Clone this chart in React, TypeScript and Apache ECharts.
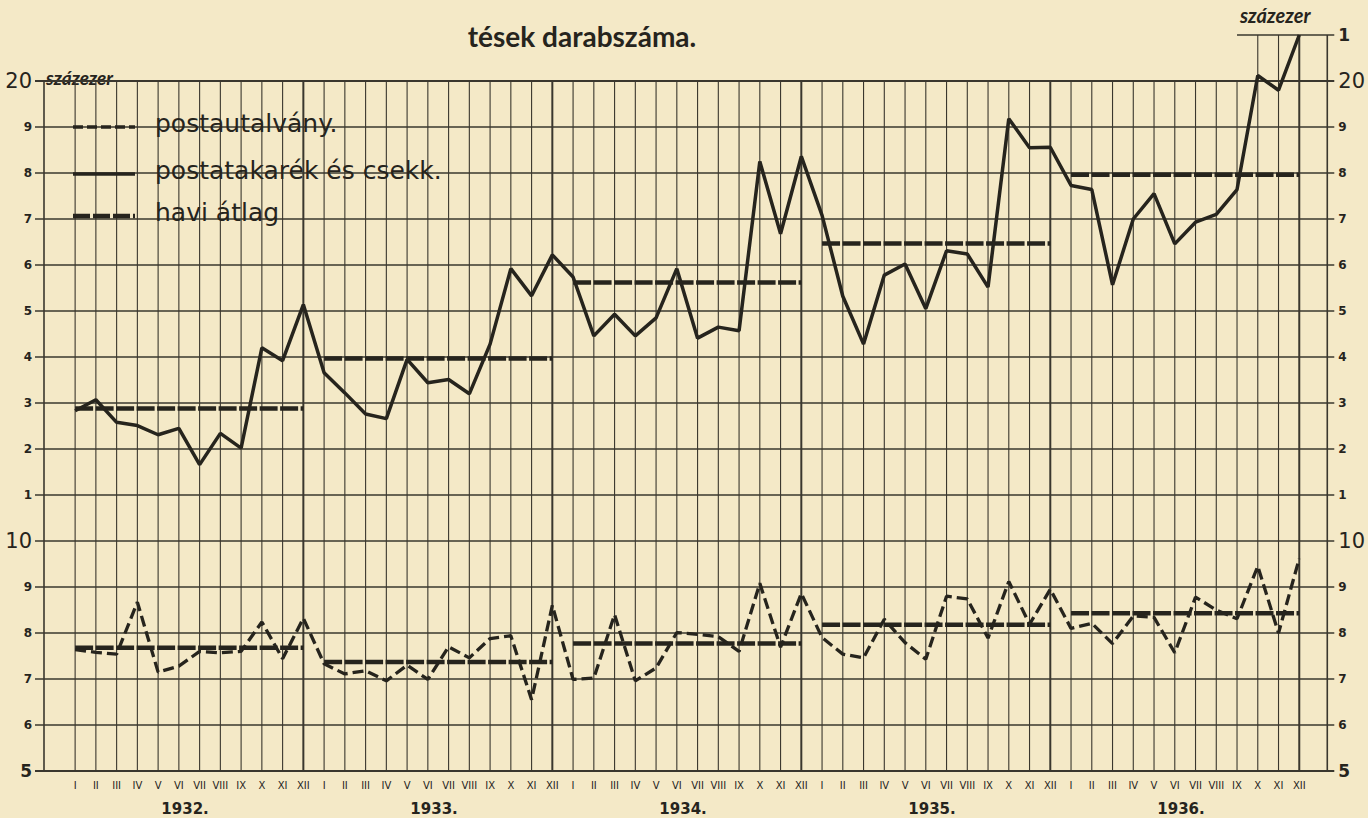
import React, { useEffect, useRef } from 'react';
import * as echarts from 'echarts';

const monthLabels = ['I', 'II', 'III', 'IV', 'V', 'VI', 'VII', 'VIII', 'IX', 'X', 'XI', 'XII'];
const yearLabels = ['1932.', '1933.', '1934.', '1935.', '1936.'];

// postatakarék és csekk (százezer)
const takarek1932 = [12.83, 13.07, 12.58, 12.51, 12.31, 12.45, 11.66, 12.34, 12.02, 14.2, 13.92, 15.14];
const takarek1933 = [13.66, 13.22, 12.76, 12.66, 13.95, 13.44, 13.51, 13.2, 14.28, 15.92, 15.33, 16.22];
const takarek1934 = [15.74, 14.46, 14.93, 14.46, 14.85, 15.92, 14.41, 14.65, 14.57, 18.25, 16.68, 18.36];
const takarek1935 = [17.08, 15.32, 14.28, 15.78, 16.02, 15.05, 16.31, 16.24, 15.52, 19.18, 18.55, 18.56];
const takarek1936 = [17.73, 17.64, 15.57, 17.0, 17.55, 16.46, 16.93, 17.1, 17.64, 20.12, 19.8, 21.0];
const takarekAvg = [12.88, 13.97, 15.62, 16.47, 17.96];

// postautalvány (százezer)
const utalvany1932 = [7.64, 7.58, 7.54, 8.67, 7.15, 7.28, 7.6, 7.57, 7.6, 8.24, 7.44, 8.32];
const utalvany1933 = [7.33, 7.11, 7.18, 6.96, 7.3, 6.99, 7.7, 7.46, 7.88, 7.94, 6.55, 8.6];
const utalvany1934 = [6.99, 7.02, 8.4, 6.96, 7.24, 8.01, 7.97, 7.92, 7.6, 9.08, 7.69, 8.86];
const utalvany1935 = [7.9, 7.54, 7.46, 8.3, 7.79, 7.43, 8.8, 8.74, 7.89, 9.12, 8.19, 8.95];
const utalvany1936 = [8.1, 8.21, 7.77, 8.37, 8.34, 7.57, 8.78, 8.5, 8.31, 9.45, 8.0, 9.62];
const utalvanyAvg = [7.68, 7.37, 7.77, 8.18, 8.43];

const yTickValues = [5, 6, 7, 8, 9, 10, 11, 12, 13, 14, 15, 16, 17, 18, 19, 20, 21];

const INK = '#26241d';
const GRID_INK = '#3a372e';
const PAPER = '#f4e9c7';
const X_MIN = -1.5;
const X_MAX = 60.35;

const takarekYears = [takarek1932, takarek1933, takarek1934, takarek1935, takarek1936];
const utalvanyYears = [utalvany1932, utalvany1933, utalvany1934, utalvany1935, utalvany1936];

function flatten(years: number[][]) {
  const out: number[][] = [];
  years.forEach((arr, y) => arr.forEach((v, m) => out.push([y * 12 + m, v])));
  return out;
}

function leftLabel(v: number) {
  if (v === 21) return '';
  if (v === 20 || v === 10) return '{big|' + v + '}';
  if (v === 5) return '{mid|5}';
  return '{small|' + (v > 10 ? v - 10 : v) + '}';
}
function rightLabel(v: number) {
  if (v === 20 || v === 10) return '{big|' + v + '}';
  if (v === 5) return '{mid|5}';
  if (v === 21) return '{mid|1}';
  return '{small|' + (v > 10 ? v - 10 : v) + '}';
}

const labelRich = {
  big: { fontSize: 21, fontFamily: 'DejaVu Sans', color: INK },
  mid: { fontSize: 17, fontFamily: 'DejaVu Sans', fontWeight: 'bold', color: INK },
  small: { fontSize: 12, fontFamily: 'DejaVu Sans', fontWeight: 'bold', color: INK },
};

export default function App() {
  const ref = useRef<HTMLDivElement>(null);
  useEffect(() => {
    document.body.style.margin = '0';
    document.body.style.background = PAPER;
    const chart = echarts.init(ref.current!, null, { renderer: 'svg' });

    const monthIdx: number[] = [];
    for (let i = 0; i < 60; i++) monthIdx.push(i);
    const yearCenters = yearLabels.map((_, y) => y * 12 + 5.3);

    const avgSeries: any[] = [];
    [takarekAvg, utalvanyAvg].forEach((avgs) => {
      avgs.forEach((a, y) => {
        avgSeries.push({
          type: 'line',
          name: 'havi átlag',
          xAxisIndex: 0,
          yAxisIndex: 0,
          data: [[y * 12, a], [y * 12 + 11, a]],
          symbol: 'none',
          lineStyle: { color: INK, width: 4.5, type: [18, 2.5], cap: 'butt' },
          z: 3,
        });
      });
    });

    const gridSeries = {
      type: 'custom',
      silent: true,
      xAxisIndex: 0,
      yAxisIndex: 0,
      data: [[0, 5]],
      z: 1,
      renderItem: (params: any, api: any) => {
        const children: any[] = [];
        const L = api.coord([X_MIN, 5])[0];
        const R = api.coord([X_MAX, 5])[0];
        const stroke = GRID_INK;
        yTickValues.forEach((v) => {
          const y = api.coord([0, v])[1];
          if (v === 21) {
            const xs = api.coord([56, v])[0];
            children.push({ type: 'line', shape: { x1: xs, y1: y, x2: R + 7, y2: y }, style: { stroke, lineWidth: 1.4 } });
          } else {
            children.push({
              type: 'line',
              shape: { x1: L - 9, y1: y, x2: R + 7, y2: y },
              style: { stroke, lineWidth: v === 5 || v === 20 ? 1.8 : 1.3 },
            });
          }
        });
        monthIdx.forEach((i) => {
          const top = i >= 57 ? 21 : 20;
          const p0 = api.coord([i, 5]);
          const p1 = api.coord([i, top]);
          const yearEnd = i % 12 === 11;
          children.push({
            type: 'line',
            shape: { x1: p0[0], y1: p0[1], x2: p1[0], y2: p1[1] },
            style: { stroke, lineWidth: yearEnd ? 2 : 1.1 },
          });
        });
        const a0 = api.coord([X_MIN, 5]);
        const a1 = api.coord([X_MIN, 20]);
        children.push({ type: 'line', shape: { x1: a0[0], y1: a0[1], x2: a1[0], y2: a1[1] }, style: { stroke, lineWidth: 1.6 } });
        const b0 = api.coord([X_MAX, 5]);
        const b1 = api.coord([X_MAX, 21]);
        children.push({ type: 'line', shape: { x1: b0[0], y1: b0[1], x2: b1[0], y2: b1[1] }, style: { stroke, lineWidth: 1.6 } });
        return { type: 'group', children };
      },
    };

    const legendY = [127, 174, 216];
    const legendNames = ['postautalvány.', 'postatakarék és csekk.', 'havi átlag'];
    const legendDash: any[] = [[10, 4], null, [17, 3]];
    const legendWidth = [3.5, 3.5, 4.5];
    const legendGraphics: any[] = [];
    legendNames.forEach((n, k) => {
      legendGraphics.push({
        type: 'line',
        shape: { x1: 73, y1: legendY[k], x2: 135, y2: legendY[k] },
        style: { stroke: INK, lineWidth: legendWidth[k], lineDash: legendDash[k] },
        z: 10,
      });
      legendGraphics.push({
        type: 'text',
        x: 155,
        y: legendY[k] - 4,
        style: { text: n, font: '25px "DejaVu Sans"', fill: INK, verticalAlign: 'middle' },
        z: 10,
      });
    });

    chart.setOption({
      animation: false,
      backgroundColor: PAPER,
      grid: { left: 44, right: 40, top: 35, bottom: 47 },
      xAxis: [
        {
          type: 'value',
          min: X_MIN,
          max: X_MAX,
          axisLine: { show: false },
          axisTick: { show: false },
          splitLine: { show: false },
          axisLabel: {
            customValues: monthIdx,
            formatter: (v: number) => monthLabels[Math.round(v) % 12],
            fontSize: 10,
            fontFamily: 'DejaVu Sans',
            color: INK,
            margin: 9,
          },
        },
        {
          type: 'value',
          min: X_MIN,
          max: X_MAX,
          position: 'bottom',
          offset: 26,
          axisLine: { show: false },
          axisTick: { show: false },
          splitLine: { show: false },
          axisLabel: {
            customValues: yearCenters,
            formatter: (v: number) => yearLabels[Math.floor(v / 12)],
            fontSize: 15,
            fontFamily: 'DejaVu Sans',
            fontWeight: 'bold',
            color: INK,
            margin: 4,
          },
        },
      ],
      yAxis: [
        {
          type: 'value',
          min: 5,
          max: 21,
          interval: 1,
          axisLine: { show: false },
          axisTick: { show: false },
          splitLine: { show: false },
          axisLabel: { formatter: leftLabel, rich: labelRich, margin: 12 },
        },
        {
          type: 'value',
          position: 'right',
          min: 5,
          max: 21,
          interval: 1,
          axisLine: { show: false },
          axisTick: { show: false },
          splitLine: { show: false },
          axisLabel: { formatter: rightLabel, rich: labelRich, margin: 11 },
        },
      ],
      graphic: [
        {
          type: 'text',
          x: 582,
          y: 36,
          style: { text: 'tések darabszáma.', font: 'bold 28px Lato', fill: INK, align: 'center', verticalAlign: 'middle' },
        },
        {
          type: 'text',
          x: 46,
          y: 77,
          style: { text: 'százezer', font: 'italic bold 19px Lato', fill: INK, verticalAlign: 'middle' },
        },
        {
          type: 'text',
          x: 1240,
          y: 15,
          style: { text: 'százezer', font: 'italic bold 20px Lato', fill: INK, verticalAlign: 'middle' },
        },
        ...legendGraphics,
      ],
      series: [
        gridSeries,
        ...avgSeries,
        {
          type: 'line',
          name: 'postatakarék és csekk.',
          data: flatten(takarekYears),
          symbol: 'none',
          lineStyle: { color: INK, width: 3.5 },
          z: 4,
        },
        {
          type: 'line',
          name: 'postautalvány.',
          data: flatten(utalvanyYears),
          symbol: 'none',
          lineStyle: { color: INK, width: 3.3, type: [11, 5] },
          z: 4,
        },
      ],
    });
    return () => chart.dispose();
  }, []);
  return <div ref={ref} style={{ position: 'absolute', left: 0, top: 0, width: 1368, height: 818 }} />;
}
